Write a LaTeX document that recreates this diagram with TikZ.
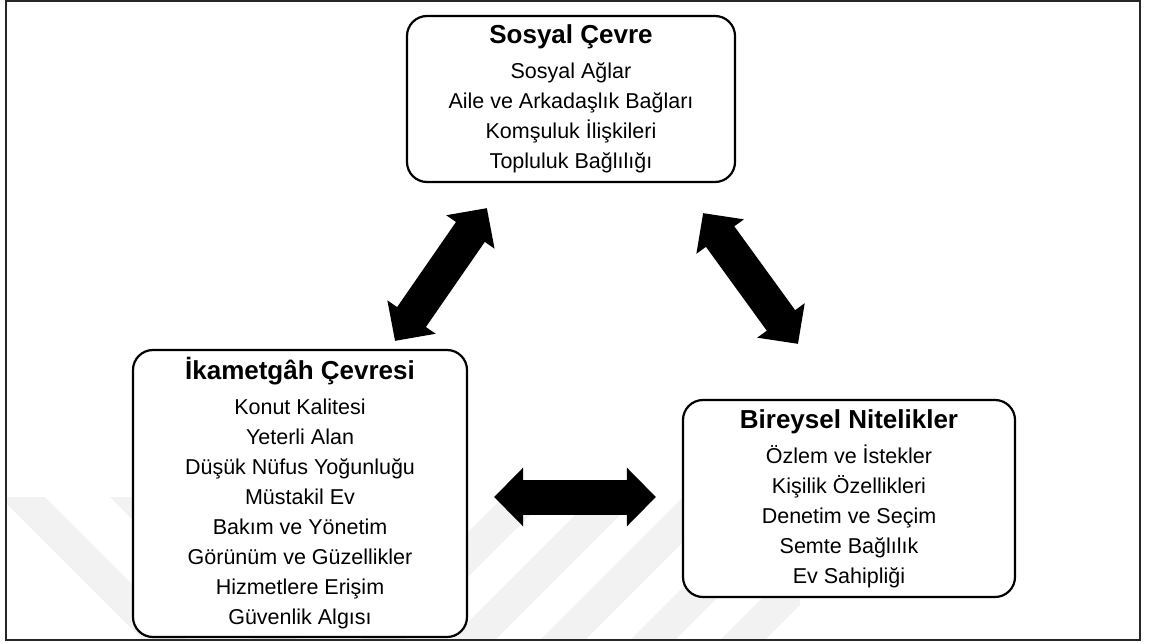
\documentclass[tikz,border=0pt]{standalone}
\usepackage{fontspec}
\setmainfont{Liberation Sans}
\usetikzlibrary{arrows.meta}
\tikzstyle{kutu}=[draw,fill=white,line width=2.2pt,rounded corners=20pt,align=center,inner sep=0pt,
  font=\fontsize{21.5}{30}\selectfont]
\tikzstyle{blokok}=[line width=35pt,{Triangle[width=57pt,length=29pt]}-{Triangle[width=57pt,length=29pt]}]
\tikzstyle{filigran}=[fill=black!5]
\newcommand{\baslik}[1]{{\fontsize{26}{30}\selectfont\bfseries #1}\\[5pt]}

\begin{document}
\begin{tikzpicture}[x=1pt,y=-1pt]
\useasboundingbox (0,0) rectangle (1150,644);
% soluk filigran
\begin{scope}
\clip (7,497) rectangle (800,639);
\foreach \c in {-495,-385}
  \fill[filigran] (\c+495,497) -- (\c+540,497) -- (\c+682,639) -- (\c+637,639) -- cycle;
\foreach \c in {1000,1090,...,1360}
  \fill[filigran] (\c-497,497) -- (\c-452,497) -- (\c-594,639) -- (\c-639,639) -- cycle;
\end{scope}
\draw[line width=2pt,black!85] (6,1) rectangle (1140,640);
% kutular
\node[kutu,minimum width=328pt,minimum height=166pt] (sosyal) at (571,99)
  {\baslik{Sosyal Çevre}Sosyal Ağlar\\Aile ve Arkadaşlık Bağları\\Komşuluk İlişkileri\\Topluluk Bağlılığı};
\node[kutu,minimum width=334pt,minimum height=287pt] (ikamet) at (300,493.5)
  {\baslik{İkametgâh Çevresi}Konut Kalitesi\\Yeterli Alan\\Düşük Nüfus Yoğunluğu\\Müstakil Ev\\Bakım ve Yönetim\\Görünüm ve Güzellikler\\Hizmetlere Erişim\\Güvenlik Algısı};
\node[kutu,minimum width=332pt,minimum height=197pt] (bireysel) at (849,498.5)
  {\baslik{Bireysel Nitelikler}Özlem ve İstekler\\Kişilik Özellikleri\\Denetim ve Seçim\\Semte Bağlılık\\Ev Sahipliği};
% oklar
\draw[blokok] ([xshift=95pt,yshift=8pt]ikamet.north) -- ([xshift=81pt,yshift=-25pt]sosyal.south west);
\draw[blokok] ([xshift=-33pt,yshift=-30pt]sosyal.south east) -- ([xshift=-51pt,yshift=55pt]bireysel.north);
\draw[blokok,shorten <=26pt,shorten >=26pt] ([yshift=-3.5pt]ikamet.east) -- ([yshift=1.5pt]bireysel.west);
\end{tikzpicture}
\end{document}
